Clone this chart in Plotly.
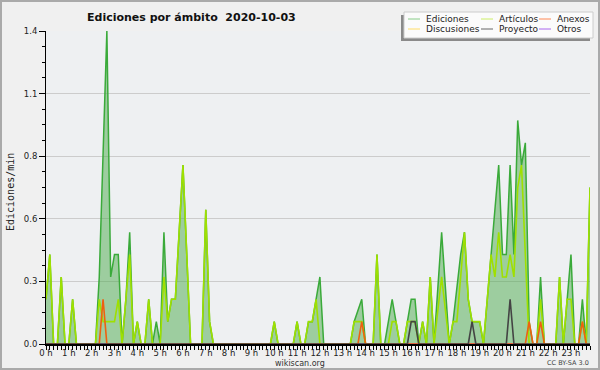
import plotly.graph_objects as go

# ---- data (10-minute bins, edits per minute) ----
bins_per_hour = 6
n_bins = 144

ediciones = [0.2, 0.4, 0, 0, 0.3, 0, 0, 0.2, 0, 0, 0, 0,
             0, 0, 0.3, 0.85, 1.4, 0.3, 0.4, 0.4, 0, 0.2, 0.5, 0,
             0.1, 0, 0, 0.2, 0, 0.1, 0, 0.5, 0.1, 0.2, 0.2, 0.5,
             0.8, 0.4, 0, 0, 0, 0, 0.6, 0.1, 0, 0, 0, 0,
             0, 0, 0, 0, 0, 0, 0, 0, 0, 0, 0, 0,
             0.1, 0, 0, 0, 0, 0, 0.1, 0, 0, 0.1, 0.1, 0.2,
             0.3, 0, 0, 0, 0, 0, 0, 0, 0, 0.1, 0.15, 0.2,
             0, 0, 0, 0.4, 0, 0, 0.1, 0.2, 0.1, 0, 0, 0.1,
             0.2, 0.2, 0, 0.1, 0, 0.3, 0, 0.25, 0.5, 0.25, 0, 0.1,
             0.25, 0.4, 0.5, 0.2, 0.1, 0.1, 0.1, 0, 0.2, 0.4, 0.6, 0.8,
             0.4, 0.4, 0.8, 0.4, 1.0, 0.8, 0.9, 0.1, 0, 0, 0.3, 0,
             0, 0, 0, 0.3, 0, 0.2, 0.4, 0, 0, 0.2, 0, 0.7]

articulos = [0.2, 0.4, 0, 0, 0.3, 0, 0, 0.2, 0, 0, 0, 0,
             0, 0, 0.2, 0.1, 0.1, 0.1, 0.1, 0.2, 0, 0.2, 0.4, 0,
             0.1, 0, 0, 0.2, 0, 0, 0, 0.3, 0.1, 0.2, 0.2, 0.5,
             0.8, 0.4, 0, 0, 0, 0, 0.6, 0.1, 0, 0, 0, 0,
             0, 0, 0, 0, 0, 0, 0, 0, 0, 0, 0, 0,
             0.1, 0, 0, 0, 0, 0, 0.1, 0, 0, 0.1, 0.1, 0.2,
             0, 0, 0, 0, 0, 0, 0, 0, 0, 0.1, 0.1, 0.1,
             0, 0, 0, 0.4, 0, 0, 0, 0.1, 0.1, 0, 0, 0.1,
             0.1, 0.1, 0, 0.1, 0, 0.3, 0, 0.15, 0.3, 0.15, 0, 0.1,
             0.1, 0.3, 0.5, 0.2, 0.1, 0.1, 0.1, 0, 0.2, 0.4, 0.3, 0.5,
             0.3, 0.3, 0.4, 0.3, 0.7, 0.8, 0.4, 0, 0, 0, 0.2, 0,
             0, 0, 0, 0.3, 0, 0.2, 0.2, 0, 0, 0.1, 0, 0.7]

anexos_bins = {15: 0.2, 83: 0.1, 127: 0.1, 130: 0.1, 141: 0.1}
proyecto_bins = {96: 0.1, 97: 0.1, 112: 0.1, 122: 0.2}
anexos = [anexos_bins.get(i, 0) for i in range(n_bins)]
proyecto = [proyecto_bins.get(i, 0) for i in range(n_bins)]
discusiones = [0] * n_bins
otros = [0] * n_bins

hours = [i / bins_per_hour for i in range(n_bins)]
hour_ticks = list(range(24))
hour_labels = [f"{h} h" for h in hour_ticks]
y_ticks = [0, 0.28, 0.56, 0.84, 1.12, 1.4]
y_labels = ["0.0", "0.3", "0.6", "0.8", "1.1", "1.4"]

line_colors = {"Ediciones": "#3aaa3a", "Artículos": "#9fe000", "Anexos": "#ee6010",
               "Discusiones": "#ffcc33", "Proyecto": "#444444", "Otros": "#9944ee"}
legend_colors = {"Ediciones": "#88cc88", "Artículos": "#ccee66", "Anexos": "#ff8855",
                 "Discusiones": "#ffdd66", "Proyecto": "#666666", "Otros": "#aa66ee"}

# ---- geometry (pixels) ----
W, H = 600, 370
L, R, T, B = 46, 590, 31, 344
def px(x):
    return (x - L) / (R - L)
def py(y):
    return (B - y) / (B - T)

fig = go.Figure()
fig.add_trace(go.Scatter(x=hours, y=ediciones, mode="lines", fill="tozeroy",
                         fillcolor="rgba(76,170,76,0.5)",
                         line=dict(color=line_colors["Ediciones"], width=1.5),
                         name="Ediciones", showlegend=False))
for name, vals in [("Discusiones", discusiones), ("Otros", otros),
                   ("Artículos", articulos), ("Anexos", anexos), ("Proyecto", proyecto)]:
    fig.add_trace(go.Scatter(x=hours, y=vals, mode="lines",
                             line=dict(color=line_colors[name], width=1.6),
                             name=name, showlegend=False))

shapes = []
annotations = []
# outer border
shapes.append(dict(type="rect", xref="paper", yref="paper",
                   x0=px(1), x1=px(599), y0=py(369), y1=py(1),
                   line=dict(color="#aaaaaa", width=2), fillcolor="rgba(0,0,0,0)", layer="below"))

# legend box with shadow
lx0, lx1, ly0, ly1 = 404, 593, 12, 38
shapes.append(dict(type="rect", xref="paper", yref="paper",
                   x0=px(lx0 - 3), x1=px(lx1 - 3), y0=py(ly1 + 3), y1=py(ly0 + 3),
                   line=dict(width=0), fillcolor="#8a8a8a"))
shapes.append(dict(type="rect", xref="paper", yref="paper",
                   x0=px(lx0), x1=px(lx1), y0=py(ly1), y1=py(ly0),
                   line=dict(color="#cccccc", width=1), fillcolor="#fbfbfb"))
legend_layout = [("Ediciones", 408, 19), ("Artículos", 481, 19), ("Anexos", 539, 19),
                 ("Discusiones", 408, 29), ("Proyecto", 481, 29), ("Otros", 539, 29)]
for name, xs, yrow in legend_layout:
    shapes.append(dict(type="line", xref="paper", yref="paper",
                       x0=px(xs), x1=px(xs + 12), y0=py(yrow), y1=py(yrow),
                       line=dict(color=legend_colors[name], width=1)))
    annotations.append(dict(x=px(xs + 16), y=py(yrow), xref="paper", yref="paper",
                            text=name, showarrow=False, xanchor="left", yanchor="middle",
                            font=dict(family="DejaVu Sans", size=9, color="#222222")))

# title
annotations.append(dict(x=px(85), y=py(17), xref="paper", yref="paper",
                        text="<b>Ediciones por ámbito  2020-10-03</b>", showarrow=False,
                        xanchor="left", yanchor="middle",
                        font=dict(family="DejaVu Sans", size=11, color="#111111")))
# y axis title
annotations.append(dict(x=px(10), y=py(192), xref="paper", yref="paper",
                        text="Ediciones/min", showarrow=False, textangle=-90,
                        xanchor="center", yanchor="middle",
                        font=dict(family="DejaVu Sans Mono", size=10, color="#222222")))
# footer
annotations.append(dict(x=px(300), y=py(363), xref="paper", yref="paper",
                        text="wikiscan.org", showarrow=False, xanchor="center", yanchor="middle",
                        borderpad=0,
                        font=dict(family="DejaVu Sans", size=8, color="#333333")))
annotations.append(dict(x=px(590), y=py(363), xref="paper", yref="paper",
                        text="CC BY-SA 3.0", showarrow=False, xanchor="right", yanchor="middle",
                        borderpad=0,
                        font=dict(family="DejaVu Sans", size=6.5, color="#444444")))

fig.update_layout(
    width=W, height=H,
    margin=dict(l=L, r=W - R, t=T, b=H - B, pad=0),
    paper_bgcolor="#f0f0f0", plot_bgcolor="#eef0f2",
    showlegend=False,
    shapes=shapes, annotations=annotations,
    xaxis=dict(range=[0, (n_bins - 1) / bins_per_hour], tickmode="array",
               tickvals=hour_ticks, ticktext=hour_labels,
               ticks="outside", ticklen=4, tickcolor="#000000", tickwidth=1,
               ticklabelstandoff=-4,
               minor=dict(tick0=0, dtick=1 / bins_per_hour, ticks="outside", ticklen=4,
                          tickcolor="#000000", showgrid=False),
               showline=True, linecolor="#000000", linewidth=2, showgrid=False,
               zeroline=False, layer="above traces",
               tickfont=dict(family="DejaVu Sans", size=8.5, color="#222222")),
    yaxis=dict(range=[0, 1.4], tickmode="array", tickvals=y_ticks, ticktext=y_labels,
               ticks="outside", ticklen=6, tickcolor="#000000",
               minor=dict(tick0=0, dtick=0.07, ticks="outside", ticklen=3,
                          tickcolor="#000000", showgrid=False),
               showline=True, linecolor="#000000", linewidth=1,
               showgrid=True, gridcolor="#cccccc", gridwidth=1, zeroline=False,
               layer="above traces",
               tickfont=dict(family="DejaVu Sans", size=8.5, color="#222222")),
)

fig.write_html("out.html", config={"displayModeBar": False},
               post_script="document.body.style.margin='0';document.body.style.padding='0';")
